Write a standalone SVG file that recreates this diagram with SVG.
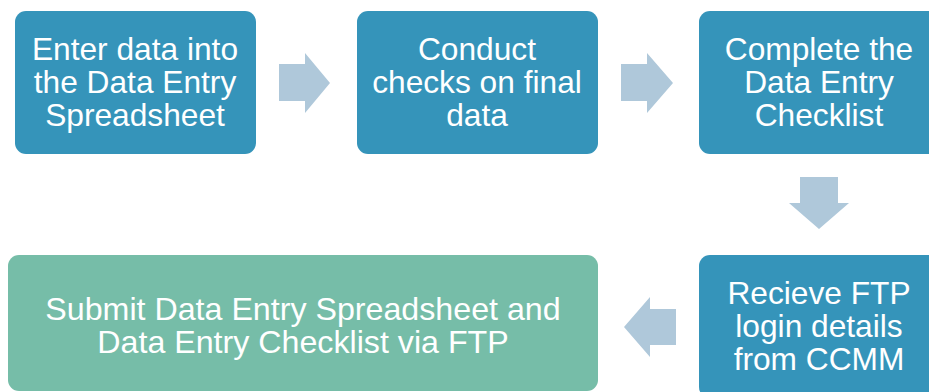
<svg xmlns="http://www.w3.org/2000/svg" width="929" height="392" viewBox="0 0 929 392">
<style>
.box{fill:#3594BA}
.green{fill:#76BDA8}
.arrow{fill:#AFC8DA}
text{font-family:"Liberation Sans",Arial,sans-serif;font-size:31.7px;fill:#ffffff;text-anchor:middle}
.big{font-size:32.2px}
</style>
<rect width="929" height="392" fill="#ffffff"/>
<g id="connectors">
<polygon class="arrow" points="279,64 305,64 305,53 330,83 305,113 305,101 279,101"/>
<polygon class="arrow" points="621,64 647,64 647,53 673,83 647,113 647,101 621,101"/>
<polygon class="arrow" points="800,177 838,177 838,203 849,203 819,229 789,203 800,203"/>
<polygon class="arrow" points="676,309 650,309 650,297 624,327 650,357 650,345 676,345"/>
</g>
<g id="node1">
<rect class="box" x="15" y="11" width="241" height="143" rx="11"/>
<text x="135" y="60">Enter data into</text>
<text x="135" y="93">the Data Entry</text>
<text x="135" y="126">Spreadsheet</text>
</g>
<g id="node2">
<rect class="box" x="357" y="11" width="241" height="143" rx="11"/>
<text x="477" y="60">Conduct</text>
<text x="477" y="93">checks on final</text>
<text x="477" y="126">data</text>
</g>
<g id="node3">
<rect class="box" x="699" y="11" width="241" height="143" rx="11"/>
<text x="819" y="60">Complete the</text>
<text x="819" y="93">Data Entry</text>
<text x="819" y="126">Checklist</text>
</g>
<g id="node4">
<rect class="box" x="699" y="255" width="241" height="143" rx="11"/>
<text x="819" y="304">Recieve FTP</text>
<text x="819" y="337">login details</text>
<text x="819" y="370">from CCMM</text>
</g>
<g id="node5">
<rect class="green" x="8" y="255" width="590" height="136" rx="11"/>
<text class="big" x="303" y="320">Submit Data Entry Spreadsheet and</text>
<text class="big" x="303" y="353">Data Entry Checklist via FTP</text>
</g>
</svg>
